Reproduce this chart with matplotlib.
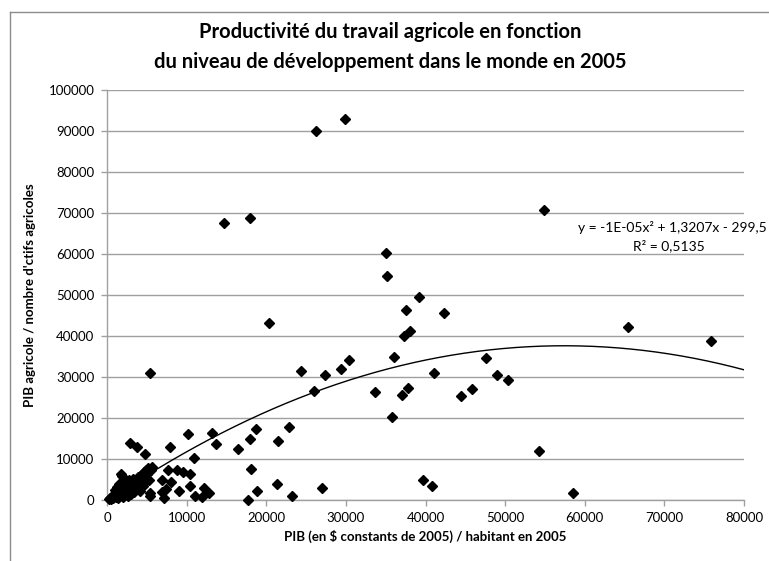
import matplotlib
matplotlib.use("Agg")
import matplotlib.pyplot as plt
import numpy as np
from matplotlib.lines import Line2D

# ---- data ----
gdp_per_capita = [
    26300, 29900, 14700, 17900, 54900, 35100, 35200, 39200, 37500, 20300,
    42300, 38100, 37300, 65400, 75800, 5400, 24400, 26000, 27400, 29400,
    30400, 36100, 33600, 37100, 37800, 35800, 41100, 44400, 45900, 47600,
    49000, 50300, 54300, 58500, 27000, 39700, 40800,
    10200, 13200, 13700, 18700, 18000, 22800, 21500, 16400, 10900, 18100,
    9500, 10400, 10400, 12200, 11000, 11900, 12800, 18800, 17700, 21400,
    23200, 2900, 3800, 4800, 7900, 5600, 5000, 7700, 8800, 1800,
    6900, 8000, 7400, 6900, 9100, 5400, 7100,
    200, 400, 500, 700, 800, 900, 1000, 1100, 1200, 1300,
    1400, 1500, 1600, 1700, 1800, 1900, 2000, 2100, 2200, 2300,
    2500, 2600, 2700, 2800, 2900, 3000, 3100, 3200, 3300, 3400,
    3500, 3600, 3800, 3900, 4000, 4100, 4200, 4300, 4400, 4500,
    4600, 4700, 4800, 4900, 5000, 5200, 5300, 5400, 5500,
]
agri_productivity = [
    90000, 93000, 67600, 68800, 70700, 60300, 54700, 49400, 46400, 43200,
    45600, 41300, 40100, 42300, 38900, 30900, 31500, 26700, 30600, 31900,
    34100, 34800, 26400, 25700, 27400, 20200, 31000, 25400, 27100, 34600,
    30400, 29300, 11900, 1600, 3000, 4800, 3500,
    16000, 16400, 13600, 17400, 14900, 17900, 14300, 12400, 10300, 7600,
    6800, 6300, 3400, 3000, 1000, 800, 1600, 2300, 0, 3900,
    1000, 13800, 12900, 11100, 12900, 8000, 7200, 7200, 7300, 6300,
    4900, 4400, 2600, 1900, 2300, 1600, 400,
    300, 600, 150, 1000, 400, 1500, 2500, 800, 3200, 1800,
    500, 4000, 2200, 1200, 3000, 5800, 700, 2600, 4400, 1600,
    3500, 900, 2100, 4800, 3000, 1400, 3900, 2500, 5200, 1900,
    3300, 4200, 2800, 5600, 3700, 4700, 2300, 6000, 5000, 3400,
    6800, 4300, 5500, 7400, 6300, 7700, 4800, 1000, 7200,
]
# polynomial trend line y = a x^2 + b x + c (label rounds a to -1E-05)
trend_a, trend_b, trend_c = -1.15e-05, 1.3207, -299.5
equation_text = "y = -1E-05x² + 1,3207x - 299,5"
r2_text = "R² = 0,5135"

title = "Productivité du travail agricole en fonction\ndu niveau de développement dans le monde en 2005"
xlabel = "PIB (en $ constants de 2005) / habitant en 2005"
ylabel = "PIB agricole / nombre d'ctifs agricoles"
xticks = list(range(0, 80001, 10000))
yticks = list(range(0, 100001, 10000))

# ---- figure ----
FONT = ["Lato", "DejaVu Sans"]
plt.rcParams["font.family"] = FONT
W, H = 769, 561
fig = plt.figure(figsize=(W / 100, H / 100), dpi=100)
ax = fig.add_axes([107 / W, 1 - 500 / H, (744 - 107) / W, (500 - 90) / H])

grid_col = "#a0a0a0"
ax.set_xlim(0, 80000)
ax.set_ylim(0, 100000)
ax.set_xticks(xticks)
ax.set_yticks(yticks)
ax.set_xticklabels([str(v) for v in xticks], fontsize=9.5)
ax.set_yticklabels([str(v) for v in yticks], fontsize=9.5)
ax.yaxis.grid(True, color=grid_col, linewidth=1.0)
ax.set_axisbelow(True)
for s in ["top", "right"]:
    ax.spines[s].set_visible(False)
for s in ["left", "bottom"]:
    ax.spines[s].set_color(grid_col)
    ax.spines[s].set_linewidth(1.0)
ax.tick_params(axis="both", direction="out", length=4, color=grid_col, width=1.0,
               colors="#000000", pad=5)
ax.tick_params(axis="both", color=grid_col)

xs = np.linspace(0, 80000, 400)
ax.plot(xs, trend_a * xs ** 2 + trend_b * xs + trend_c, color="black", linewidth=1.0, zorder=3)

ax.plot(gdp_per_capita, agri_productivity, linestyle="none", marker="D", markersize=5.2,
        color="black", zorder=4, clip_on=False)

ax.set_xlabel(xlabel, fontsize=9.5, fontweight="bold", labelpad=4)
ax.set_ylabel(ylabel, fontsize=9.5, fontweight="bold", labelpad=9)

fig.text(390 / W, 1 - 47 / H, title, ha="center", va="center", fontsize=14.5,
         fontweight="bold", linespacing=1.65)

fig.text(767 / W, 1 - 227 / H, equation_text, ha="right", va="center", fontsize=10)
fig.text(705 / W, 1 - 246 / H, r2_text, ha="right", va="center", fontsize=10)

# chart border
fig.add_artist(Line2D([10 / W, 10 / W], [1 - 12 / H, 0.0], color="#8c8c8c", linewidth=1.0,
                      transform=fig.transFigure))
fig.add_artist(Line2D([10 / W, 1.0], [1 - 12 / H, 1 - 12 / H], color="#8c8c8c", linewidth=1.0,
                      transform=fig.transFigure))

fig.savefig("out.png", dpi=100)
